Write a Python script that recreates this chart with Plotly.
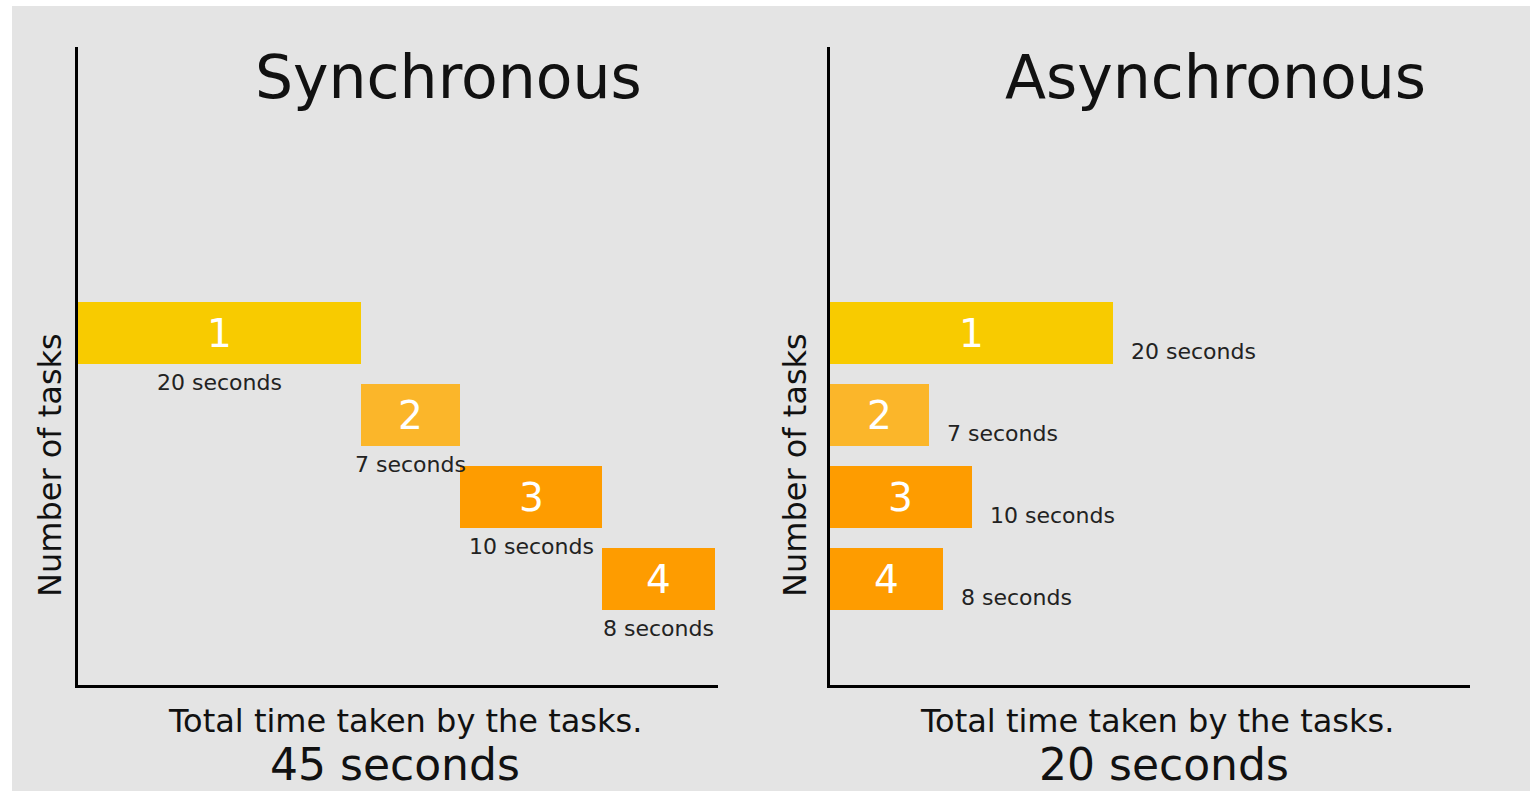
import plotly.graph_objects as go

# ---- data ----
tasks = [1, 2, 3, 4]
task_labels = ["1", "2", "3", "4"]
durations = [20, 7, 10, 8]
duration_labels = ["20 seconds", "7 seconds", "10 seconds", "8 seconds"]
bar_colors = ["#F8CB00", "#FBB62A", "#FE9C00", "#FE9C00"]
panel_titles = ["Synchronous", "Asynchronous"]
axis_x_title = "Total time taken by the tasks."
axis_y_title = "Number of tasks"
totals = ["45 seconds", "20 seconds"]

# synchronous: each task starts when the previous one ends
sync_start = []
acc = 0
for d in durations:
    sync_start.append(acc)
    acc += d
async_start = [0] * len(durations)

W, H = 1530, 791
FONT = "DejaVu Sans, Verdana, sans-serif"
BG = "#e4e4e4"

fig = go.Figure()

for starts, xa, ya in [(sync_start, "x", "y"), (async_start, "x2", "y2")]:
    fig.add_trace(go.Bar(
        orientation="h", y=tasks, x=durations, base=starts,
        width=0.76, marker=dict(color=bar_colors, line=dict(width=0)),
        xaxis=xa, yaxis=ya, showlegend=False, hoverinfo="skip",
    ))

annotations = []
# numbers inside bars
for starts, xr, yr in [(sync_start, "x", "y"), (async_start, "x2", "y2")]:
    for t, s, d, lab in zip(tasks, starts, durations, task_labels):
        annotations.append(dict(x=s + d / 2, y=t, xref=xr, yref=yr, text=lab,
                                showarrow=False, font=dict(family=FONT, size=39, color="white"),
                                xanchor="center", yanchor="middle"))
# duration labels: sync below bars, async right of bars
for t, s, d, lab in zip(tasks, sync_start, durations, duration_labels):
    annotations.append(dict(x=s + d / 2, y=t + 0.6, xref="x", yref="y", text=lab,
                            showarrow=False, font=dict(family=FONT, size=22, color="#222222"),
                            xanchor="center", yanchor="middle"))
for t, s, d, lab in zip(tasks, async_start, durations, duration_labels):
    annotations.append(dict(x=s + d, y=t + 0.22, xref="x2", yref="y2", text=lab,
                            showarrow=False, xshift=16, font=dict(family=FONT, size=22, color="#222222"),
                            xanchor="left", yanchor="middle"))

def px(x):
    return x / W

def py(y):
    return (H - y) / H

for cx_title, cx_axis, cx_total, cx_y, title, total in [
    (448, 405, 395, 50, panel_titles[0], totals[0]),
    (1215, 1157, 1164, 795, panel_titles[1], totals[1]),
]:
    annotations.append(dict(x=px(cx_title), y=py(77), xref="paper", yref="paper", text=title,
                            showarrow=False, font=dict(family=FONT, size=60, color="#111111"),
                            xanchor="center", yanchor="middle"))
    annotations.append(dict(x=px(cx_axis), y=py(721), xref="paper", yref="paper", text=axis_x_title,
                            showarrow=False, font=dict(family=FONT, size=32, color="#111111"),
                            xanchor="center", yanchor="middle"))
    annotations.append(dict(x=px(cx_total), y=0, xref="paper", yref="paper", text=total,
                            showarrow=False, font=dict(family=FONT, size=44, color="#111111"),
                            xanchor="center", yanchor="bottom", borderpad=0))
    annotations.append(dict(x=px(cx_y), y=py(465), xref="paper", yref="paper", text=axis_y_title,
                            showarrow=False, textangle=-90,
                            font=dict(family=FONT, size=32, color="#111111"),
                            xanchor="center", yanchor="middle"))

xr = [0, 45.2]
yr = [5.29, -2.49]
ax_common = dict(showgrid=False, zeroline=False, showticklabels=False, ticks="",
                 showline=True, linecolor="black", linewidth=3, fixedrange=True)

fig.update_layout(
    width=W, height=H,
    margin=dict(l=0, r=0, t=0, b=0),
    paper_bgcolor="white", plot_bgcolor="rgba(0,0,0,0)",
    xaxis=dict(domain=[78 / W, 718 / W], range=xr, anchor="y", **ax_common),
    yaxis=dict(domain=[(H - 685) / H, (H - 47) / H], range=yr, anchor="x", **ax_common),
    xaxis2=dict(domain=[830 / W, 1470 / W], range=xr, anchor="y2", **ax_common),
    yaxis2=dict(domain=[(H - 685) / H, (H - 47) / H], range=yr, anchor="x2", **ax_common),
    shapes=[dict(type="rect", xref="paper", yref="paper", x0=12 / W, x1=1, y0=0, y1=(H - 6) / H,
                 fillcolor=BG, line=dict(width=0), layer="below")],
    annotations=annotations,
    bargap=0,
)

fig.write_html("out.html")
